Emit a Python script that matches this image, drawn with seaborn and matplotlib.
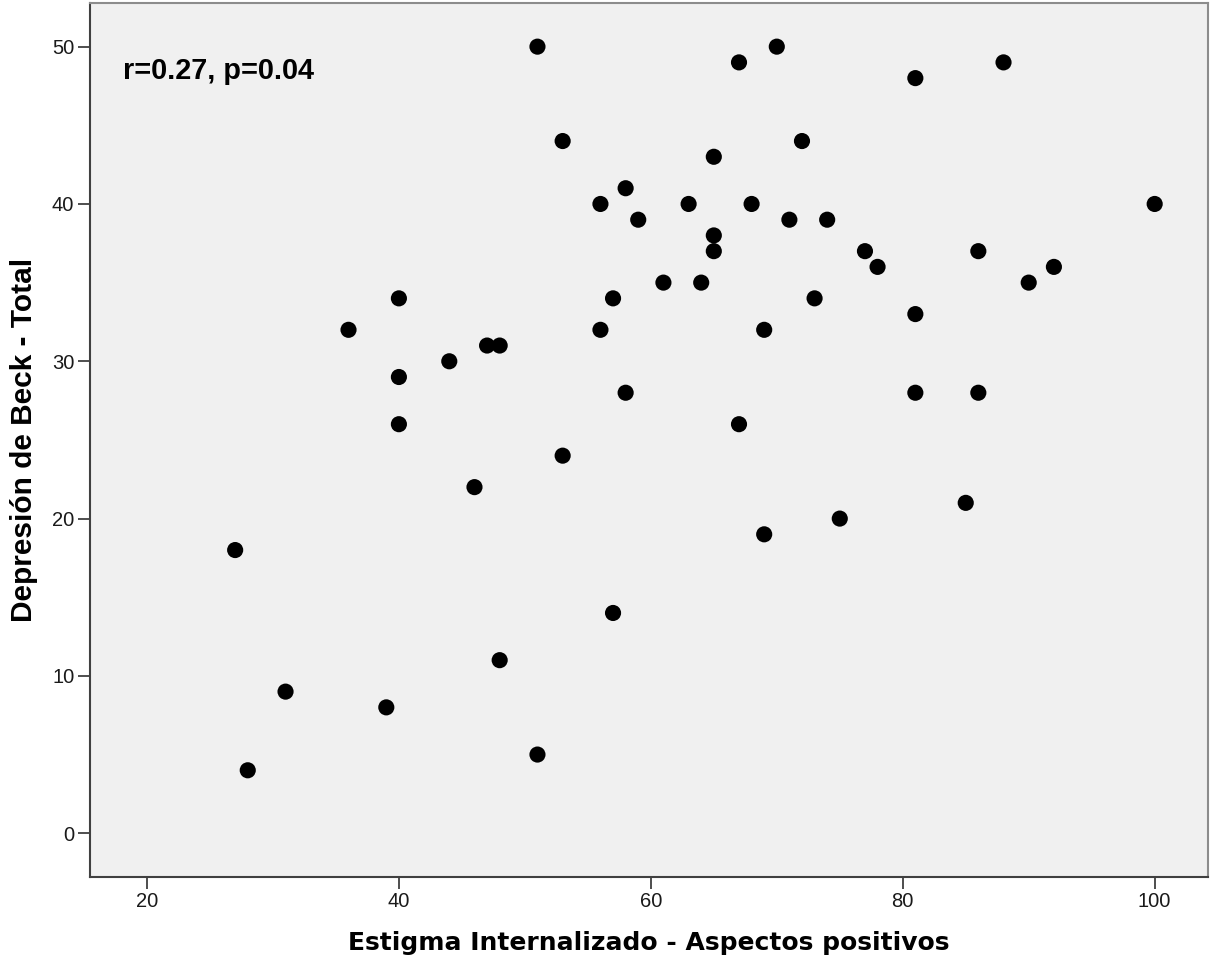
import pandas as pd
import numpy as np
import matplotlib
matplotlib.use("Agg")
import matplotlib.pyplot as plt
import seaborn as sns

# Datos (estigma vs. depresión)
estigma = [51, 70, 67, 88, 81, 53, 72, 65, 58, 56, 63, 68, 100, 59, 71, 74,
           65, 65, 77, 86, 78, 92, 61, 64, 90, 40, 57, 73, 81, 36, 56, 69,
           47, 48, 44, 40, 58, 81, 86, 40, 67, 53, 46, 85, 75, 69, 27, 57,
           48, 31, 39, 51, 28]
beck = [50, 50, 49, 49, 48, 44, 44, 43, 41, 40, 40, 40, 40, 39, 39, 39,
        38, 37, 37, 37, 36, 36, 35, 35, 35, 34, 34, 34, 33, 32, 32, 32,
        31, 31, 30, 29, 28, 28, 28, 26, 26, 24, 22, 21, 20, 19, 18, 14,
        11, 9, 8, 5, 4]
x_ticks = [20, 40, 60, 80, 100]
y_ticks = [0, 10, 20, 30, 40, 50]
x_label = "Estigma Internalizado - Aspectos positivos"
y_label = "Depresión de Beck - Total"
anotacion = "r=0.27, p=0.04"

df = pd.DataFrame({"estigma": estigma, "beck": beck})

sns.set_style("white", {"axes.facecolor": "#F0F0F0"})
plt.rcParams["font.family"] = ["Liberation Sans", "DejaVu Sans"]
plt.rcParams["text.color"] = "black"

fig = plt.figure(figsize=(12.1, 9.69), dpi=100)
ax = fig.add_axes([0.074, 0.095, 0.924, 0.9015])

sns.scatterplot(data=df, x="estigma", y="beck", color="black", s=135,
                edgecolor="none", ax=ax)

ax.set_xlim(15.44, 104.2)
ax.set_ylim(-2.78, 52.75)
ax.set_xticks(x_ticks)
ax.set_yticks(y_ticks)
ax.tick_params(axis="both", direction="out", length=8.5, width=1.3,
               bottom=True, left=True, color="#404040", labelsize=14.5,
               labelcolor="#1a1a1a", pad=2.5)

for lado in ["left", "bottom"]:
    ax.spines[lado].set_color("#404040")
    ax.spines[lado].set_linewidth(1.5)
for lado in ["top", "right"]:
    ax.spines[lado].set_color("#8c8c8c")
    ax.spines[lado].set_linewidth(1.5)

ax.set_xlabel(x_label, fontsize=18, fontweight="bold", color="black",
              family="DejaVu Sans", labelpad=14)
ax.set_ylabel(y_label, fontsize=21.5, fontweight="bold", color="black",
              labelpad=10)

ax.text(0.030, 0.923, anotacion, transform=ax.transAxes, ha="left",
        va="center", fontsize=20.8, fontweight="bold", color="black")

fig.savefig("out.png", dpi=100)
